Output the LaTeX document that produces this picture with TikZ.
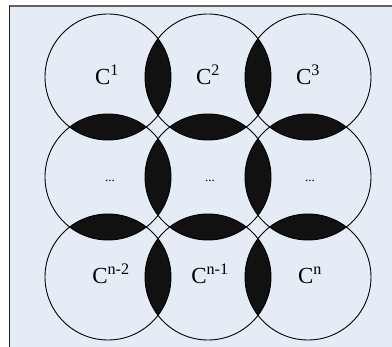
\documentclass[tikz,border=0pt]{standalone}
\usepackage{fontspec}
\setmainfont{Liberation Serif}
\definecolor{bgblue}{RGB}{230,236,246}
\definecolor{framegray}{RGB}{95,95,95}
\definecolor{lensblack}{RGB}{17,17,17}
\tikzset{
  ring/.style={circle, draw=black, line width=0.9pt, minimum size=126pt, inner sep=0pt},
  lens/.style={fill=lensblack},
  lab/.style={font=\fontsize{23}{26}\selectfont, inner sep=0pt, anchor=base},
  dots/.style={font=\fontsize{13}{15}\selectfont, inner sep=0pt, anchor=base}
}
\begin{document}
\begin{tikzpicture}[x=1pt,y=-1pt]
\useasboundingbox (0,0) rectangle (392,347);
\fill[bgblue] (9,6) rectangle (392,347);
\draw[framegray, line width=2pt] (9,6) -- (392,6);
\draw[black!85, line width=1.2pt] (9.6,6) -- (9.6,347);
% centres
\foreach \r/\y in {1/77,2/177,3/277}
  \foreach \c/\x in {1/108,2/208,3/308}
    \coordinate (p\r\c) at (\x,\y);
% lenses between horizontal neighbours
\foreach \r in {1,2,3}
  \foreach \c/\d in {1/2,2/3}{
    \begin{scope}
      \clip (p\r\c) circle[radius=63pt];
      \fill[lens] (p\r\d) circle[radius=63pt];
    \end{scope}
  }
% lenses between vertical neighbours
\foreach \r/\s in {1/2,2/3}
  \foreach \c in {1,2,3}{
    \begin{scope}
      \clip (p\r\c) circle[radius=63pt];
      \fill[lens] (p\s\c) circle[radius=63pt];
    \end{scope}
  }
% circles
\foreach \r in {1,2,3}
  \foreach \c in {1,2,3}
    \node[ring] (k\r\c) at (p\r\c) {};
% labels
\node[lab] (t11) at (107,85) {C\textsuperscript{1}};
\node[lab] (t12) at (208,85) {C\textsuperscript{2}};
\node[lab] (t13) at (308,85) {C\textsuperscript{3}};
\node[dots] (t21) at (110,182) {...};
\node[dots] (t22) at (210,182) {...};
\node[dots] (t23) at (310,182) {...};
\node[lab] (t31) at (111,284) {C\textsuperscript{n-2}};
\node[lab] (t32) at (210,284) {C\textsuperscript{n-1}};
\node[lab] (t33) at (310,284) {C\textsuperscript{n}};
\end{tikzpicture}
\end{document}
